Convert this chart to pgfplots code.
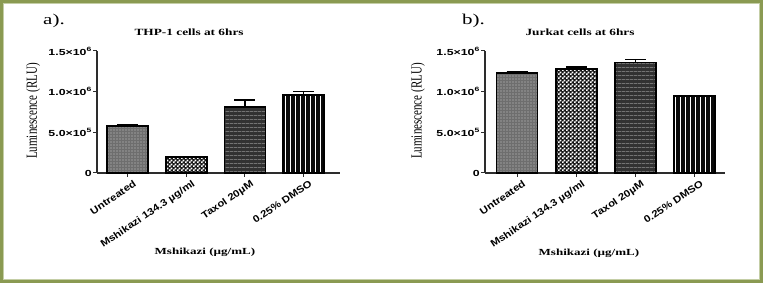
\documentclass[border=0pt]{standalone}
\usepackage{fontspec}
\setmainfont{Liberation Serif}
\newfontfamily\serifw[FakeStretch=1.4]{Liberation Serif}
\newfontfamily\sansw[FakeStretch=1.4]{Liberation Sans}
\newfontfamily\sansx[FakeStretch=1.15]{Liberation Sans}
\usepackage{graphicx}
\usepackage{pgfplots}
\pgfplotsset{compat=1.18}
\usetikzlibrary{patterns,patterns.meta}

\definecolor{olive1}{RGB}{138,154,82}
\definecolor{olive2}{RGB}{196,206,166}
\definecolor{axgray}{RGB}{45,45,45}

\pgfdeclarepatternformonly{finechecker}{\pgfpointorigin}{\pgfqpoint{3.6pt}{3.6pt}}{\pgfqpoint{3.6pt}{3.6pt}}{%
  \pgfpathrectangle{\pgfpointorigin}{\pgfqpoint{1.8pt}{1.8pt}}%
  \pgfpathrectangle{\pgfqpoint{1.8pt}{1.8pt}}{\pgfqpoint{1.8pt}{1.8pt}}%
  \pgfusepath{fill}}

\newcommand{\yl}[1]{{\sansw\bfseries\fontsize{8.8}{10}\selectfont #1}}

\pgfplotsset{
 panel/.style={
  scale only axis, anchor=south west, height=122pt,
  ymin=0, ymax=1.5e6, scaled y ticks=false,
  axis lines*=left, axis line style={-, line width=1.2pt, axgray},
  tick align=outside, major tick length=4pt, tick style={line width=1pt, axgray},
  xtick={0,1,2,3},
  xticklabels={Untreated,Mshikazi 134.3 µg/ml,Taxol 20µM,0.25\% DMSO},
  xticklabel style={rotate=34, anchor=north east, inner sep=0pt, xshift=3pt, yshift=-5pt,
     font=\sansx\bfseries\fontsize{9.8}{10}\selectfont},
  ytick={0,5e5,1e6,1.5e6},
  yticklabels={\yl{0},\yl{5.0×10\textsuperscript{5}},\yl{1.0×10\textsuperscript{6}},\yl{1.5×10\textsuperscript{6}}},
  yticklabel style={inner sep=1pt},
  every axis title shift=0pt,
  title style={anchor=center, yshift=0pt, font=\serifw\bfseries\fontsize{9.5}{11}\selectfont},
  xlabel style={anchor=center, font=\serifw\bfseries\fontsize{9.3}{11}\selectfont},
  ylabel style={anchor=center, rotate=-90},
  xlabel={Mshikazi (µg/mL)},
  ylabel={\scalebox{1.4}[1]{\rotatebox{90}{\fontsize{11}{12}\selectfont Luminescence (RLU)}}},
  clip=false,
 },
 bar/.style={ybar, bar shift=0pt, bar width=41pt, draw=black, line width=1.6pt,
  error bars/y dir=plus, error bars/y explicit,
  error bars/error bar style={line width=1.5pt, black},
  error bars/error mark options={rotate=90, line width=1.5pt, black, mark size=10.5pt}},
 s1/.style={preaction={fill={rgb,255:red,110;green,110;blue,110}}, pattern={Dots[distance=3pt, radius=0.6pt]}, pattern color={rgb,255:red,205;green,205;blue,205}},
 s2/.style={preaction={fill={rgb,255:red,20;green,20;blue,20}}, pattern=finechecker, pattern color=white},
 s3/.style={preaction={fill={rgb,255:red,50;green,50;blue,50}}, pattern={Lines[angle=0, distance=4pt, line width=0.8pt]}, pattern color={rgb,255:red,150;green,150;blue,150}},
 s4/.style={preaction={fill={rgb,255:red,10;green,10;blue,10}}, pattern={Lines[angle=90, distance=5pt, line width=0.8pt]}, pattern color=white},
}

\begin{document}
\begin{tikzpicture}
\useasboundingbox (0,0) rectangle (763pt,283pt);
\fill[white] (0,0) rectangle (763pt,283pt);
\draw[olive1, line width=3pt] (1.5pt,1.5pt) rectangle (761.5pt,281.5pt);
\draw[olive2, line width=1pt] (3.8pt,3.8pt) rectangle (759.2pt,279.2pt);

\node[anchor=base west, inner sep=0pt, font=\serifw\fontsize{15}{16}\selectfont] at (43pt,258pt) {a).};
\node[anchor=base west, inner sep=0pt, font=\serifw\fontsize{15}{16}\selectfont] at (462pt,258pt) {b).};

% Left panel: THP-1
\begin{axis}[panel, at={(97pt,110pt)}, width=243pt, xmin=-0.52, xmax=3.62,
  title={THP-1 cells at 6hrs}, title style={at={(0.379,1.156)}},
  xlabel style={at={(0.444,-0.648)}}, ylabel style={at={(-0.263,0.508)}}]
\addplot[s1, bar] coordinates {(0,578000) +- (0,20000)};
\addplot[s2, bar] coordinates {(1,193000) +- (0,7000)};
\addplot[s3, bar] coordinates {(2,808000) +- (0,90000)};
\addplot[s4, bar] coordinates {(3,959000) +- (0,40000)};
\end{axis}

% Right panel: Jurkat
\begin{axis}[panel, at={(485pt,110pt)}, width=240pt, xmin=-0.54, xmax=3.51,
  title={Jurkat cells at 6hrs}, title style={at={(0.396,1.156)}},
  xlabel style={at={(0.433,-0.656)}}, ylabel style={at={(-0.279,0.508)}}]
\addplot[s1, bar] coordinates {(0,1226000) +- (0,15000)};
\addplot[s2, bar] coordinates {(1,1275000) +- (0,30000)};
\addplot[s3, bar] coordinates {(2,1361000) +- (0,35000)};
\addplot[s4, bar] coordinates {(3,947000) +- (0,5000)};
\end{axis}
\end{tikzpicture}
\end{document}
